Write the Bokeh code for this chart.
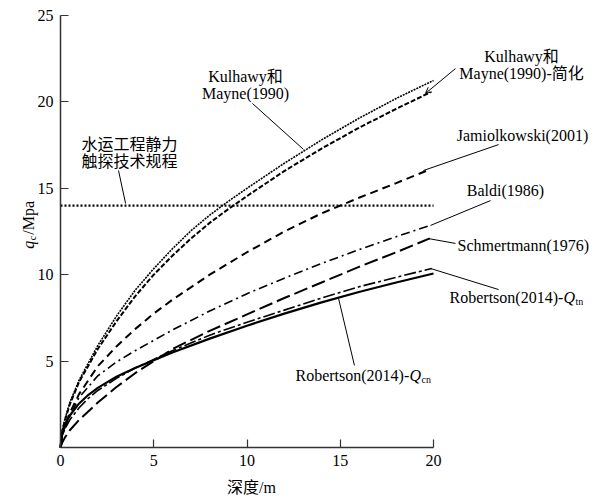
from bokeh.plotting import figure
from bokeh.models import Label, Arrow, OpenHead, FixedTicker, Range1d, ColumnDataSource
from bokeh.embed import file_html
from bokeh.resources import INLINE
import math

# ---------------- data ----------------
kulhawy_z = [0, 0.1, 0.25, 0.5, 1, 2, 3, 4, 5, 6, 7, 8, 9, 10, 12, 14, 16, 18, 20.0]
kulhawy_q = [0, 1.0, 1.7, 2.6, 3.9, 5.9, 7.6, 9.1, 10.35, 11.5, 12.55, 13.45, 14.25, 15.0, 16.45, 17.8, 19.05, 20.2, 21.24]

kulhawy_s_z = [0, 0.1, 0.25, 0.5, 1, 2, 3, 4, 5, 6, 7, 8, 9, 10, 12, 14, 16, 18, 19.84]
kulhawy_s_q = [0, 1.0, 1.6, 2.5, 3.8, 5.7, 7.3, 8.75, 10.0, 11.1, 12.1, 13.0, 13.8, 14.55, 16.0, 17.3, 18.5, 19.6, 20.56]

jamiol_z = [0, 0.1, 0.25, 0.5, 1, 2, 3, 4, 5, 6, 8, 10, 12, 14, 16, 18, 19.6]
jamiol_q = [0, 0.8, 1.3, 2.0, 3.1, 4.7, 5.85, 6.85, 7.75, 8.55, 10.0, 11.3, 12.5, 13.55, 14.45, 15.3, 16.0]

baldi_z = [0, 0.1, 0.25, 0.5, 1, 2, 3, 4, 5, 6, 8, 10, 12, 14, 16, 18, 19.8]
baldi_q = [0, 0.7, 1.2, 1.8, 2.9, 4.15, 4.95, 5.6, 6.2, 6.8, 7.9, 8.9, 9.8, 10.65, 11.45, 12.2, 12.85]

schmert_z = [0, 0.1, 0.25, 0.5, 1, 2, 3, 4, 5, 6, 8, 10, 12, 14, 16, 18, 19.8]
schmert_q = [0, 0.3, 0.6, 1.0, 1.6, 2.6, 3.5, 4.3, 5.0, 5.7, 6.75, 7.7, 8.65, 9.55, 10.45, 11.3, 12.1]

rob_tn_z = [0, 0.1, 0.25, 0.5, 1, 1.5, 2, 3, 4, 5, 6, 8, 10, 12, 14, 16, 18, 19.9]
rob_tn_q = [0, 0.7, 1.1, 1.6, 2.3, 2.85, 3.3, 4.0, 4.6, 5.1, 5.6, 6.5, 7.25, 7.95, 8.65, 9.3, 9.85, 10.36]

rob_cn_z = [0, 0.1, 0.25, 0.5, 1, 1.5, 2, 3, 4, 5, 6, 8, 10, 12, 14, 16, 18, 20.0]
rob_cn_q = [0, 0.9, 1.35, 1.85, 2.55, 3.05, 3.45, 4.1, 4.6, 5.05, 5.5, 6.3, 7.05, 7.75, 8.4, 9.0, 9.55, 10.07]

code_z = [0, 20]
code_q = [14, 14]

x_ticks = [0, 5, 10, 15, 20]
y_ticks = [5, 10, 15, 20, 25]

# ---------------- figure ----------------
SERIF = "'Liberation Serif', 'Noto Sans CJK SC'"

p = figure(width=608, height=500, x_range=Range1d(-3.217, 29.383), y_range=Range1d(-3.067, 25.868),
           output_backend="svg", toolbar_location=None,
           min_border=0, min_border_left=0, min_border_right=0, min_border_top=0, min_border_bottom=0)
p.xgrid.visible = False
p.ygrid.visible = False
p.outline_line_color = None
p.background_fill_color = "white"
p.border_fill_color = "white"

for ax, bnd, tk in ((p.xaxis, (0, 20), x_ticks), (p.yaxis, (0, 25), y_ticks)):
    ax.fixed_location = 0
    ax.bounds = bnd
    ax.ticker = FixedTicker(ticks=tk)
    ax.major_tick_in = 8
    ax.major_tick_out = 0
    ax.minor_tick_in = 0
    ax.minor_tick_out = 0
    ax.axis_line_width = 1.5
    ax.axis_line_color = "#333333"
    ax.major_tick_line_color = "#333333"
    ax.major_tick_line_width = 1.2
    ax.major_label_text_font = "'Liberation Serif'"
    ax.major_label_text_font_size = "16px"
    ax.major_label_text_color = "black"
    ax.major_label_standoff = 7

# ---------------- curves ----------------
p.line(code_z, code_q, line_color="black", line_width=2.2, line_dash="2 2")
p.line(kulhawy_z, kulhawy_q, line_color="black", line_width=1.6, line_dash="2 1")
p.line(kulhawy_s_z, kulhawy_s_q, line_color="black", line_width=2, line_dash="5 2")
p.line(jamiol_z, jamiol_q, line_color="black", line_width=2, line_dash="8 5")
p.line(baldi_z, baldi_q, line_color="black", line_width=1.6, line_dash="9 4 2 4")
p.line(schmert_z, schmert_q, line_color="black", line_width=2, line_dash="14 5")
p.line(rob_tn_z, rob_tn_q, line_color="black", line_width=1.6, line_dash="12 3 3 3")
p.line(rob_cn_z, rob_cn_q, line_color="black", line_width=2.2)

# ---------------- leader lines ----------------
lead = ColumnDataSource(dict(
    x0=[3.11, 10.29, 23.49, 23.06, 21.18, 23.49, 15.76],
    y0=[16.03, 19.91, 17.53, 14.29, 11.81, 9.14, 4.75],
    x1=[3.49, 13.03, 19.46, 19.84, 19.73, 19.84, 14.91],
    y1=[14.12, 17.25, 16.03, 12.85, 12.09, 10.36, 8.62],
))
p.segment(x0="x0", y0="y0", x1="x1", y1="y1", source=lead, line_color="black", line_width=1)
p.add_layout(Arrow(end=OpenHead(size=6, line_width=1, line_color="black"),
                   x_start=21.18, y_start=21.93, x_end=19.57, y_end=20.49,
                   line_width=1, line_color="black"))

# ---------------- labels ----------------
def lab(x, y, text, align="center", size="16px", style="normal", dx=0, dy=0, angle=0):
    p.add_layout(Label(x=x, y=y, text=text, text_align=align, text_baseline="middle",
                       text_font=SERIF, text_font_size=size, text_font_style=style,
                       text_color="black", text_line_height=1.0,
                       x_offset=dx, y_offset=dy, angle=angle))

lab(3.70, 17.04, "水运工程静力\n触探技术规程")
lab(9.92, 20.95, "Kulhawy和\nMayne(1990)")
lab(24.72, 22.14, "Kulhawy和\nMayne(1990)-简化")
lab(24.77, 18.06, "Jamiolkowski(2001)")
lab(23.86, 14.87, "Baldi(1986)")
lab(21.29, 11.69, "Schmertmann(1976)", align="left")

for (x, y, sub) in ((20.86, 8.68, "tn"), (12.60, 4.17, "cn")):
    lab(x, y, "Robertson(2014)-", align="left")
    lab(x, y, "Q", align="left", style="italic", dx=114)
    lab(x, y, sub, align="left", size="10px", dx=126, dy=-4)

# axis titles
lab(10.24, -2.3, "深度/m")
lab(-1.72, 11.5, "q", align="left", style="italic", angle=math.pi / 2)
lab(-1.72, 11.5, "c", align="left", size="10px", angle=math.pi / 2, dx=4, dy=8.5)
lab(-1.72, 11.5, "/Mpa", align="left", angle=math.pi / 2, dy=14)

open("out.html", "w").write(file_html(p, INLINE))
